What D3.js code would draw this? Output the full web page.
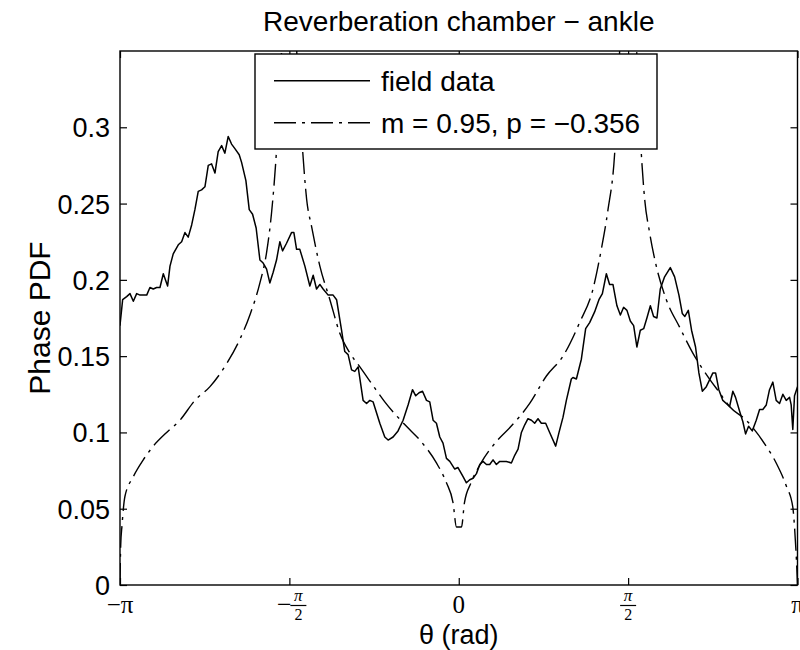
<!DOCTYPE html>
<html><head><meta charset="utf-8">
<script src="https://cdn.jsdelivr.net/npm/d3@7"></script>
<style>body{margin:0;background:#fff}svg{display:block}</style>
</head><body><svg id="c" width="800" height="650"></svg>
<script>
const fieldTheta=[-3.142,-3.117,-3.080,-3.049,-3.018,-2.987,-2.956,-2.894,-2.864,-2.833,-2.802,-2.771,-2.740,-2.700,-2.678,-2.648,-2.601,-2.570,-2.539,-2.509,-2.477,-2.447,-2.416,-2.385,-2.354,-2.323,-2.292,-2.261,-2.231,-2.199,-2.169,-2.138,-2.107,-2.076,-2.036,-2.014,-1.974,-1.943,-1.912,-1.879,-1.844,-1.814,-1.782,-1.752,-1.721,-1.690,-1.659,-1.634,-1.597,-1.551,-1.529,-1.504,-1.474,-1.427,-1.381,-1.350,-1.319,-1.288,-1.258,-1.211,-1.165,-1.133,-1.087,-1.057,-1.026,-0.994,-0.964,-0.933,-0.887,-0.855,-0.825,-0.794,-0.732,-0.686,-0.655,-0.609,-0.563,-0.516,-0.470,-0.429,-0.399,-0.368,-0.336,-0.299,-0.269,-0.238,-0.207,-0.176,-0.146,-0.114,-0.083,-0.037,-0.007,0.040,0.071,0.102,0.133,0.164,0.195,0.225,0.257,0.287,0.318,0.349,0.380,0.442,0.488,0.519,0.550,0.581,0.612,0.642,0.674,0.704,0.735,0.766,0.806,0.843,0.899,0.930,0.967,0.998,1.044,1.059,1.091,1.137,1.177,1.214,1.260,1.300,1.332,1.369,1.399,1.430,1.467,1.499,1.529,1.560,1.591,1.622,1.652,1.684,1.715,1.745,1.777,1.807,1.838,1.869,1.909,1.962,2.002,2.042,2.073,2.097,2.129,2.159,2.196,2.227,2.259,2.296,2.357,2.382,2.412,2.449,2.512,2.542,2.567,2.604,2.635,2.660,2.688,2.722,2.759,2.790,2.820,2.852,2.882,2.913,2.944,2.975,3.006,3.037,3.068,3.083,3.098,3.114,3.142];
const fieldPdf=[0.170,0.187,0.189,0.191,0.186,0.191,0.190,0.190,0.195,0.194,0.195,0.195,0.204,0.196,0.209,0.217,0.223,0.225,0.231,0.228,0.236,0.246,0.258,0.259,0.261,0.275,0.276,0.270,0.284,0.288,0.283,0.294,0.289,0.286,0.282,0.277,0.265,0.246,0.243,0.234,0.213,0.211,0.207,0.198,0.205,0.213,0.225,0.219,0.224,0.231,0.231,0.220,0.220,0.209,0.196,0.203,0.194,0.197,0.194,0.190,0.190,0.187,0.167,0.153,0.151,0.141,0.140,0.143,0.121,0.119,0.121,0.120,0.106,0.097,0.095,0.097,0.101,0.108,0.118,0.128,0.124,0.126,0.127,0.121,0.120,0.108,0.106,0.097,0.093,0.083,0.081,0.076,0.077,0.071,0.067,0.069,0.070,0.073,0.079,0.081,0.079,0.079,0.082,0.079,0.081,0.081,0.080,0.085,0.089,0.100,0.105,0.109,0.108,0.106,0.109,0.106,0.106,0.100,0.091,0.100,0.110,0.121,0.135,0.136,0.135,0.148,0.168,0.172,0.179,0.187,0.191,0.204,0.197,0.197,0.183,0.177,0.182,0.180,0.173,0.170,0.156,0.167,0.168,0.175,0.183,0.176,0.175,0.194,0.202,0.208,0.202,0.190,0.178,0.176,0.180,0.167,0.156,0.139,0.127,0.130,0.139,0.139,0.128,0.121,0.117,0.127,0.123,0.114,0.107,0.099,0.104,0.101,0.108,0.115,0.115,0.118,0.128,0.133,0.121,0.119,0.125,0.121,0.123,0.118,0.102,0.124,0.130];
const modelTheta=[-3.142,-3.135,-3.123,-3.096,-3.018,-2.926,-2.833,-2.709,-2.586,-2.447,-2.307,-2.153,-2.030,-1.937,-1.844,-1.782,-1.736,-1.690,-1.643,-1.571,-1.503,-1.448,-1.411,-1.365,-1.288,-1.195,-1.103,-1.010,-0.917,-0.778,-0.686,-0.485,-0.361,-0.207,-0.114,-0.053,-0.021,0.025,0.053,0.114,0.207,0.361,0.485,0.658,0.813,0.967,1.121,1.245,1.322,1.384,1.446,1.492,1.571,1.650,1.693,1.724,1.770,1.832,1.925,2.048,2.171,2.326,2.419,2.511,2.666,2.851,2.944,3.037,3.098,3.114,3.132,3.142];
const modelPdf=[0,0.026,0.039,0.058,0.071,0.082,0.091,0.100,0.108,0.121,0.130,0.145,0.161,0.177,0.198,0.218,0.244,0.285,0.351,0.600,0.351,0.285,0.253,0.235,0.209,0.187,0.165,0.152,0.143,0.129,0.120,0.104,0.095,0.080,0.067,0.054,0.038,0.038,0.054,0.067,0.080,0.095,0.104,0.119,0.137,0.150,0.172,0.194,0.220,0.246,0.283,0.350,0.600,0.350,0.283,0.253,0.231,0.209,0.187,0.169,0.152,0.135,0.126,0.117,0.108,0.091,0.080,0.065,0.051,0.038,0.016,0];
const yTicks=[0,0.05,0.1,0.15,0.2,0.25,0.3];
const xTickValues=[-Math.PI,-Math.PI/2,0,Math.PI/2,Math.PI];
const xTickLabels=["−π","−π/2","0","π/2","π"];
const seriesNames=["field data","m = 0.95, p = −0.356"];
const titleText="Reverberation chamber − ankle";
const xLabel="θ (rad)";
const yLabel="Phase PDF";

const L=120,R=797.5,T=51,B=585;
const svg=d3.select("#c");
const x=d3.scaleLinear().domain([-Math.PI,Math.PI]).range([L,R]);
const y=d3.scaleLinear().domain([0,0.35]).range([B,T]);
const sans="'Liberation Sans', Arial, Helvetica, sans-serif";
const serif="'Liberation Serif', 'Times New Roman', serif";

svg.append("defs").append("clipPath").attr("id","clip")
  .append("rect").attr("x",L).attr("y",T).attr("width",R-L).attr("height",B-T);

const field=fieldTheta.map((t,i)=>[t,fieldPdf[i]]);
const model=modelTheta.map((t,i)=>[t,modelPdf[i]]);
const g=svg.append("g").attr("clip-path","url(#clip)");
g.append("path").datum(model)
  .attr("d",d3.line().x(d=>x(d[0])).y(d=>y(d[1])).curve(d3.curveMonotoneX))
  .attr("fill","none").attr("stroke","#000").attr("stroke-width",1.4)
  .attr("stroke-dasharray","22,6,3,6");
g.append("path").datum(field).attr("d",d3.line().x(d=>x(d[0])).y(d=>y(d[1])))
  .attr("fill","none").attr("stroke","#000").attr("stroke-width",1.5).attr("stroke-linejoin","round");

// axes
function styleAxis(sel){
  sel.select(".domain").remove();
  sel.selectAll(".tick line").attr("stroke","#000").attr("stroke-width",1.2);
}
svg.append("g").attr("transform",`translate(${L},0)`)
  .call(d3.axisLeft(y).tickValues(yTicks).tickSizeInner(-7).tickSizeOuter(0).tickPadding(10).tickFormat(d=>String(d)))
  .call(styleAxis)
  .selectAll(".tick text").attr("font-family",sans).attr("font-size",27).attr("fill","#000").attr("dy","0.35em");
svg.append("g").attr("transform",`translate(${R},0)`)
  .call(d3.axisRight(y).tickValues(yTicks).tickSizeInner(-7).tickSizeOuter(0).tickFormat(""))
  .call(styleAxis);
svg.append("g").attr("transform",`translate(0,${B})`)
  .call(d3.axisBottom(x).tickValues(xTickValues).tickSizeInner(-7).tickSizeOuter(0).tickFormat(""))
  .call(styleAxis);
svg.append("g").attr("transform",`translate(0,${T})`)
  .call(d3.axisTop(x).tickValues(xTickValues).tickSizeInner(-7).tickSizeOuter(0).tickFormat(""))
  .call(styleAxis);

// x tick labels (LaTeX-like)
xTickValues.forEach((v,i)=>{
  const lab=xTickLabels[i];
  const cx=x(v);
  const tg=svg.append("g").attr("transform",`translate(${cx},0)`);
  if(lab.includes("/")){
    const neg=lab.startsWith("−");
    const parts=(neg?lab.slice(1):lab).split("/");
    const fx=neg?9:0;
    if(neg){
      tg.append("text").attr("x",fx-14).attr("y",613).attr("text-anchor","middle")
        .attr("font-family",serif).attr("font-size",26).text("−");
    }
    tg.append("line").attr("x1",fx-8).attr("x2",fx+8).attr("y1",605.5).attr("y2",605.5)
      .attr("stroke","#000").attr("stroke-width",1.2);
    tg.append("text").attr("x",fx).attr("y",601).attr("text-anchor","middle")
      .attr("font-family",serif).attr("font-size",17).attr("font-style","italic").text(parts[0]);
    tg.append("text").attr("x",fx).attr("y",620).attr("text-anchor","middle")
      .attr("font-family",serif).attr("font-size",16).text(parts[1]);
  } else {
    tg.append("text").attr("x",0).attr("y",613).attr("text-anchor","middle")
      .attr("font-family",serif).attr("font-size",25).text(lab);
  }
});

// box
svg.append("rect").attr("x",L).attr("y",T).attr("width",R-L).attr("height",B-T)
  .attr("fill","none").attr("stroke","#000").attr("stroke-width",1.4);

// title and labels
svg.append("text").attr("x",(L+R)/2).attr("y",31).attr("text-anchor","middle")
  .attr("font-family",sans).attr("font-size",28).text(titleText);
svg.append("text").attr("x",(L+R)/2).attr("y",644).attr("text-anchor","middle")
  .attr("font-family",sans).attr("font-size",27).text(xLabel);
svg.append("text").attr("transform",`translate(50,${(T+B)/2}) rotate(-90)`).attr("text-anchor","middle")
  .attr("font-family",sans).attr("font-size",30).text(yLabel);

// legend
const lg=svg.append("g");
lg.append("rect").attr("x",255).attr("y",54).attr("width",402).attr("height",95)
  .attr("fill","#fff").attr("stroke","#000").attr("stroke-width",1.4);
const rows=[80.7,122.7];
const dashes=[null,"22,6,3,6"];
seriesNames.forEach((n,i)=>{
  lg.append("line").attr("x1",274).attr("x2",370).attr("y1",rows[i]).attr("y2",rows[i])
    .attr("stroke","#000").attr("stroke-width",1.4).attr("stroke-dasharray",dashes[i]);
  lg.append("text").attr("x",381).attr("y",rows[i]+10).attr("font-family",sans)
    .attr("font-size",28).text(n);
});
</script></body></html>
